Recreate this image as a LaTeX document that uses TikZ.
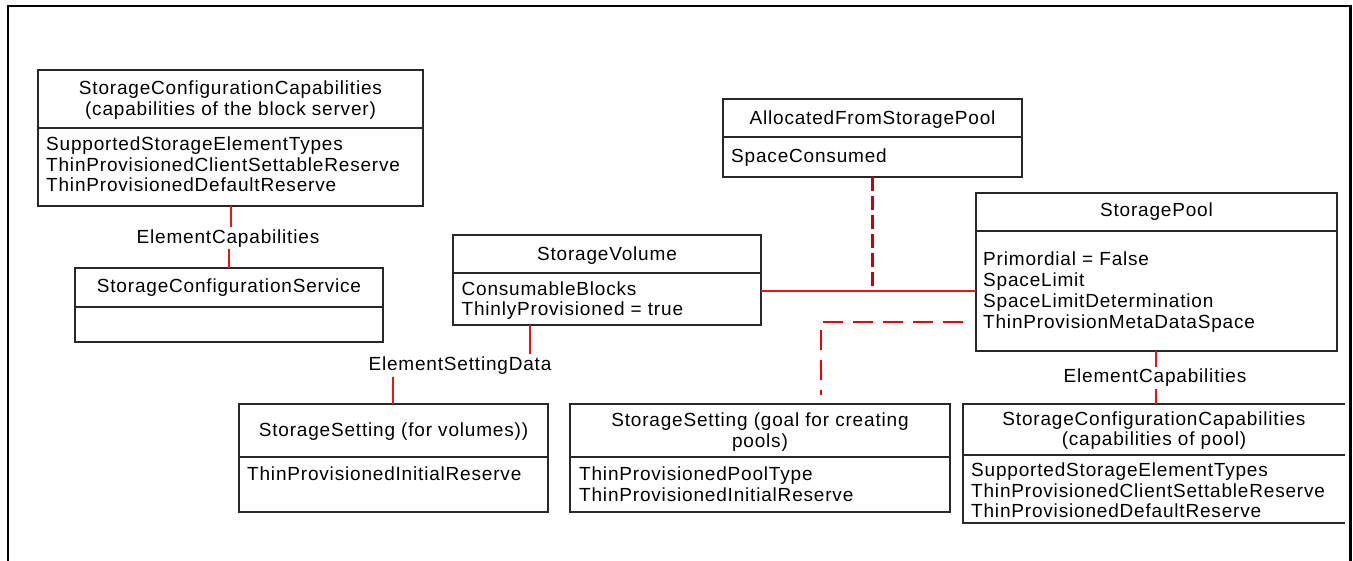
\documentclass[tikz,border=0pt]{standalone}
\usepackage{fontspec}
\setmainfont{Liberation Sans}[LetterSpace=4.3]
\definecolor{conred}{RGB}{235,20,20}
\definecolor{darkred}{RGB}{200,0,10}
\definecolor{brightred}{RGB}{240,0,0}
\definecolor{boxline}{RGB}{40,40,40}
\begin{document}
\begin{tikzpicture}[x=1pt,y=-1pt,
  font=\fontsize{19}{22}\selectfont,
  box/.style={draw=boxline,line width=1.3pt,inner sep=0pt,outer sep=0pt,anchor=north west},
  openbox/.style={inner sep=0pt,outer sep=0pt,anchor=north west},
  divline/.style={draw=boxline,line width=1.3pt},
  ttl/.style={inner sep=0pt,anchor=base,text=black},
  attr/.style={inner sep=0pt,anchor=base west,text=black},
  lbl/.style={anchor=base,text=black},
  conn/.style={draw=conred,line width=1.2pt},
  thickdash/.style={draw=darkred,line width=3pt,dash pattern=on 14pt off 5pt},
  thindash/.style={draw=brightred,line width=2.2pt,dash pattern=on 20pt off 10pt}
]
\useasboundingbox (0,0) rectangle (1353,560);
% frame
\draw[line width=2.4pt,black] (8,562) -- (8,6) -- (1350.5,6) -- (1350.5,562);

% StorageConfigurationCapabilities (block server)
\node[box,minimum width=385pt,minimum height=136pt] (scc1) at (38,70) {};
\draw[divline] (scc1.west |- 0,128) -- (scc1.east |- 0,128);
\node[ttl] (scc1t1) at (230.5,94.5) {StorageConfigurationCapabilities};
\node[ttl] (scc1t2) at (230.5,115.5) {(capabilities of the block server)};
\node[attr] (scc1a1) at (46,150.7) {SupportedStorageElementTypes};
\node[attr] (scc1a2) at (46,171) {ThinProvisionedClientSettableReserve};
\node[attr] (scc1a3) at (46,191.3) {ThinProvisionedDefaultReserve};

% StorageConfigurationService
\node[box,minimum width=308pt,minimum height=74pt] (scs) at (75,268) {};
\draw[divline] (scs.west |- 0,307) -- (scs.east |- 0,307);
\node[ttl] (scst) at (229,292.7) {StorageConfigurationService};

% StorageVolume
\node[box,minimum width=308pt,minimum height=90pt] (sv) at (453,235) {};
\draw[divline] (sv.west |- 0,273) -- (sv.east |- 0,273);
\node[ttl] (svt) at (607,260) {StorageVolume};
\node[attr] (sva1) at (461.4,295) {ConsumableBlocks};
\node[attr] (sva2) at (461.4,315) {ThinlyProvisioned = true};

% AllocatedFromStoragePool
\node[box,minimum width=299pt,minimum height=78pt] (afsp) at (723,99) {};
\draw[divline] (afsp.west |- 0,137) -- (afsp.east |- 0,137);
\node[ttl] (afspt) at (872.5,124) {AllocatedFromStoragePool};
\node[attr] (afspa1) at (731,162.7) {SpaceConsumed};

% StoragePool
\node[box,minimum width=361pt,minimum height=158pt] (sp) at (976,193) {};
\draw[divline] (sp.west |- 0,231) -- (sp.east |- 0,231);
\node[ttl] (spt) at (1156.5,216.7) {StoragePool};
\node[attr] (spa1) at (983,265) {Primordial = False};
\node[attr] (spa2) at (983,286) {SpaceLimit};
\node[attr] (spa3) at (983,307) {SpaceLimitDetermination};
\node[attr] (spa4) at (983,328) {ThinProvisionMetaDataSpace};

% StorageSetting (for volumes)
\node[box,minimum width=309pt,minimum height=108pt] (ss1) at (239,404) {};
\draw[divline] (ss1.west |- 0,457) -- (ss1.east |- 0,457);
\node[ttl] (ss1t) at (393.5,436) {StorageSetting (for volumes))};
\node[attr] (ss1a1) at (247,480) {ThinProvisionedInitialReserve};

% StorageSetting (goal for creating pools)
\node[box,minimum width=380pt,minimum height=108pt] (ss2) at (570,404) {};
\draw[divline] (ss2.west |- 0,457) -- (ss2.east |- 0,457);
\node[ttl] (ss2t1) at (760,426) {StorageSetting (goal for creating};
\node[ttl] (ss2t2) at (760,447) {pools)};
\node[attr] (ss2a1) at (579,480) {ThinProvisionedPoolType};
\node[attr] (ss2a2) at (579,501) {ThinProvisionedInitialReserve};

% StorageConfigurationCapabilities (pool), open on the right
\node[openbox,minimum width=382pt,minimum height=119pt] (scc2) at (963,404) {};
\draw[divline] (scc2.north east) -- (scc2.north west) -- (scc2.south west) -- (scc2.south east);
\draw[divline] (scc2.west |- 0,455) -- (scc2.east |- 0,455);
\node[ttl] (scc2t1) at (1154,425) {StorageConfigurationCapabilities};
\node[ttl] (scc2t2) at (1154,445.7) {(capabilities of pool)};
\node[attr] (scc2a1) at (971,476.7) {SupportedStorageElementTypes};
\node[attr] (scc2a2) at (971,497.7) {ThinProvisionedClientSettableReserve};
\node[attr] (scc2a3) at (971,517.7) {ThinProvisionedDefaultReserve};

% ElementCapabilities (block server)
\node[lbl,inner sep=1.6pt] (ec1) at (228,243) {ElementCapabilities};
\draw[conn] (231,0 |- scc1.south) -- (231,0 |- ec1.north);
\draw[conn] (229,0 |- ec1.south) -- (229,0 |- scs.north);

% ElementSettingData
\node[lbl,inner sep=2.5pt] (esd) at (460,370) {ElementSettingData};
\draw[conn] (sv.south -| 530,0) -- (530,0 |- esd.north);
\draw[conn] (393,0 |- esd.south) -- (393,0 |- ss1.north);

% ElementCapabilities (pool)
\node[lbl,inner sep=1.8pt] (ec2) at (1155,382.7) {ElementCapabilities};
\draw[conn] (1156,0 |- sp.south) -- (1156,0 |- ec2.north);
\draw[conn] (1156,0 |- ec2.south) -- (1156,0 |- scc2.north);

% StorageVolume -- StoragePool
\coordinate (jn) at (872.5,291);
\draw[conn] (sv.east |- jn) -- (sp.west |- jn);
% AllocatedFromStoragePool association
\draw[thickdash] (afsp.south) -- (jn);
% StoragePool -- StorageSetting (goal)
\coordinate (bend) at (821,322);
\draw[thindash,shorten <=13pt,shorten >=9pt] (sp.west |- bend) -- (bend) -- (ss2.north -| bend);
\end{tikzpicture}
\end{document}
